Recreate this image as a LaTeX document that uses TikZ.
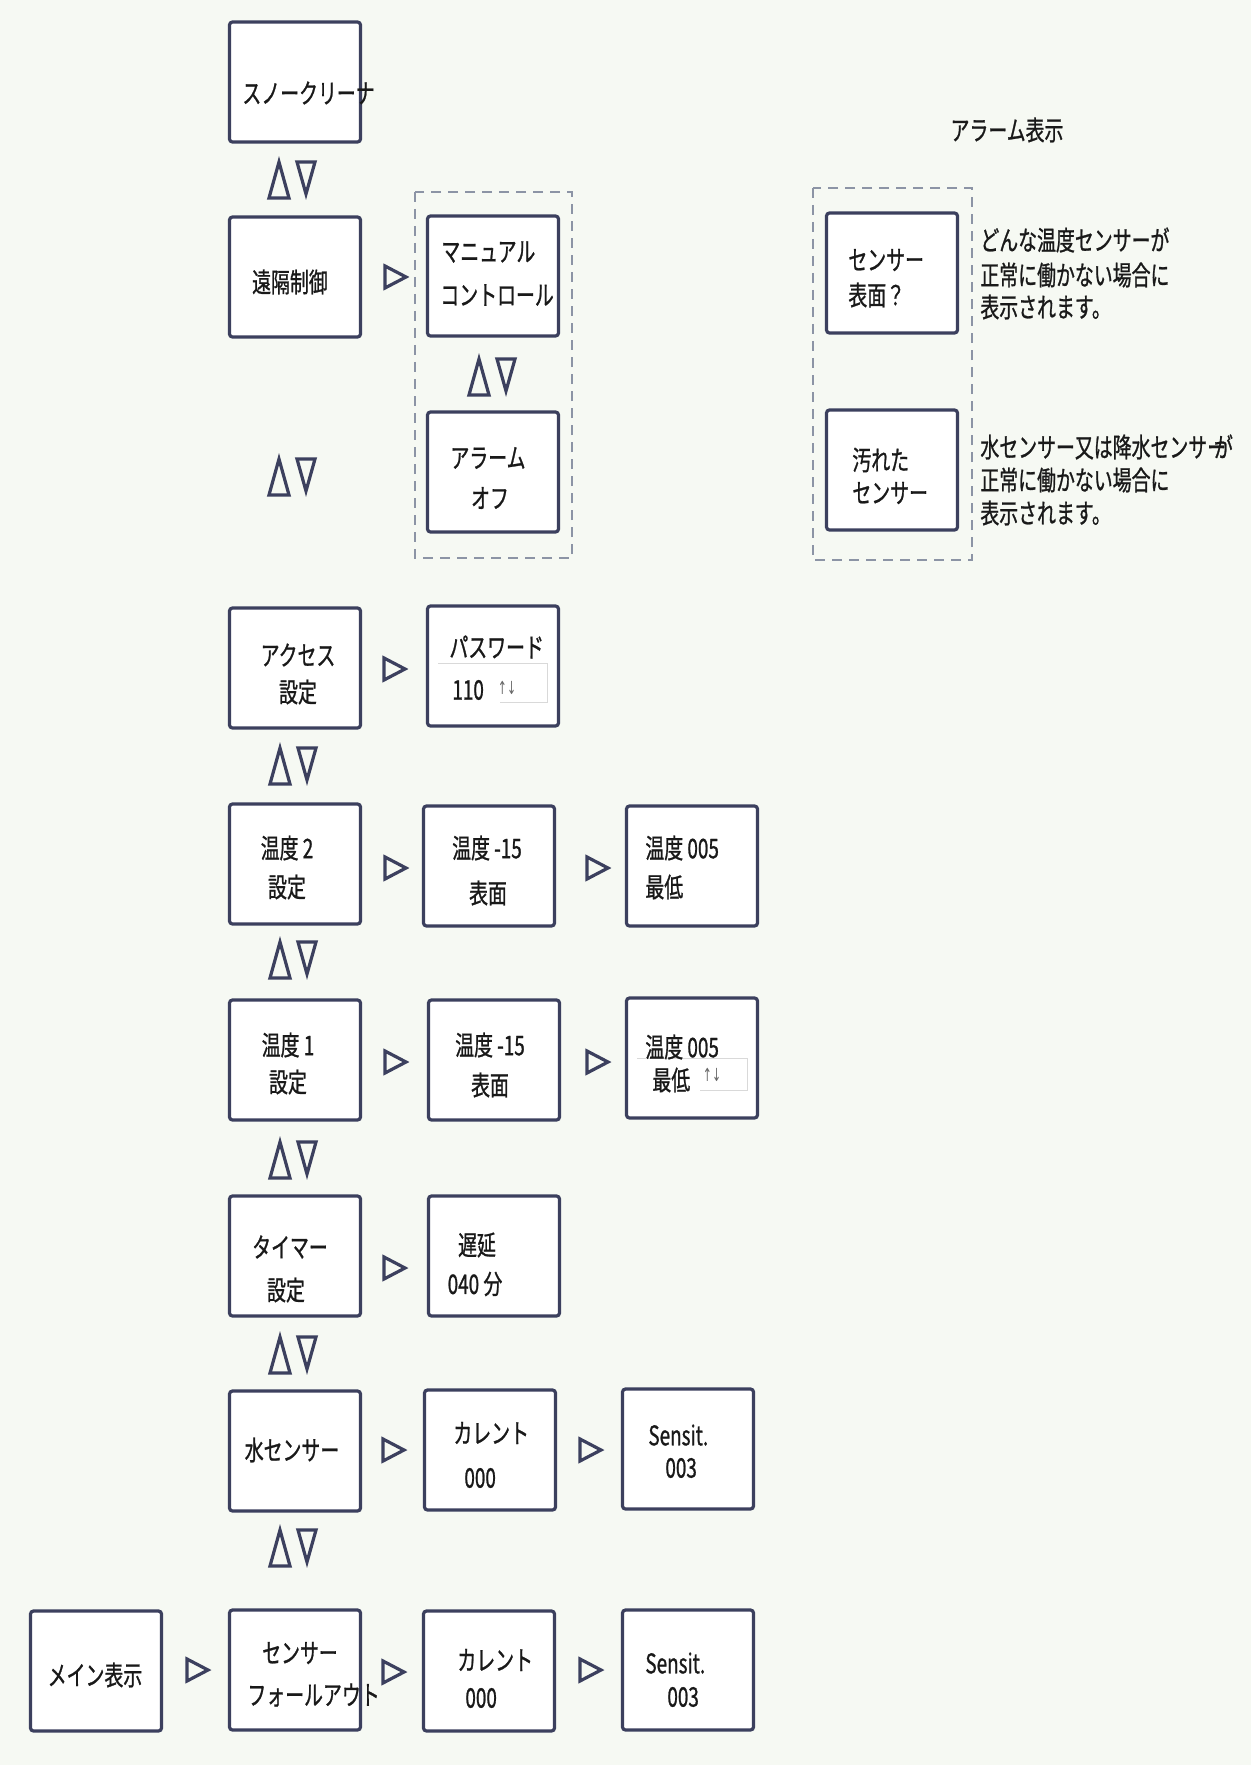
\documentclass[tikz,border=0pt]{standalone}
\usepackage{fontspec}
\newfontfamily\jp[FakeStretch=0.7,FakeBold=0.9]{Noto Sans CJK JP}
\newfontfamily\arrf[FakeStretch=0.6]{DejaVu Sans}
\definecolor{bg}{RGB}{246,249,243}
\definecolor{bd}{RGB}{60,64,94}
\definecolor{dsh}{RGB}{140,148,165}
\newcommand\updn[1]{\draw[symb,shift={(#1)}] (-23,18) -- (-13,-18) -- (-3,18) -- cycle;
  \draw[symb,shift={(#1)}] (5,-18) -- (23,-18) -- (14,14) -- cycle;}
\newcommand\rtri[1]{\draw[symb,shift={(#1)}] (-10,-11) -- (11,0) -- (-10,11) -- cycle;}
\begin{document}
\begin{tikzpicture}[x=0.5pt,y=-0.5pt,
 box/.style={draw=bd, line width=1.6pt, fill=white, rounded corners=1.5pt, minimum width=65.5pt, minimum height=60pt, inner sep=0pt},
 dbox/.style={draw=dsh, line width=0.9pt, dash pattern=on 5pt off 3.5pt},
 txt/.style={font=\jp\fontsize{13.5}{16}\selectfont, inner sep=0pt, text=black!90},
 lt/.style={txt, anchor=west},
 symb/.style={draw=bd, line width=1.6pt, line join=miter},
 faint/.style={draw=black!15, line width=0.5pt},
 arr/.style={font=\arrf\fontsize{9}{9}\selectfont, inner sep=0pt, text=black!60}
]
\fill[bg] (0,0) rectangle (1251,1765);
\useasboundingbox (0,0) rectangle (1251,1765);
% dashed groups
\draw[dbox] (415,192) rectangle (572,558);
\draw[dbox] (813,188) rectangle (972,560);
% boxes
\node[box] (snow) at (295,82) {};
\node[box] (remote) at (295,277) {};
\node[box] (manual) at (493,276) {};
\node[box] (aloff) at (493,472) {};
\node[box] (surf) at (892,273) {};
\node[box] (dirty) at (892,470) {};
\node[box] (access) at (295,668) {};
\node[box] (pass) at (493,666) {};
\node[box] (t2) at (295,864) {};
\node[box] (t2a) at (489,866) {};
\node[box] (t2b) at (692,866) {};
\node[box] (t1) at (295,1060) {};
\node[box] (t1a) at (494,1060) {};
\node[box] (t1b) at (692,1058) {};
\node[box] (timer) at (295,1256) {};
\node[box] (delay) at (494,1256) {};
\node[box] (water) at (295,1451) {};
\node[box] (wcur) at (490,1450) {};
\node[box] (wsen) at (688,1449) {};
\node[box] (main) at (96,1671) {};
\node[box] (fall) at (295,1670) {};
\node[box] (fcur) at (489,1671) {};
\node[box] (fsen) at (688,1670) {};
% faint input boxes
\draw[faint] (438,663) -- (547,663) -- (547,702) -- (500,702);
\draw[faint] (637,1058) -- (747,1058) -- (747,1090) -- (700,1090);
% texts
\node[lt] (snow-t) at (242,93) {スノークリーナ};
\node[txt] (remote-t) at (290,282) {遠隔制御};
\node[lt] (manual-t1) at (441,252) {マニュアル};
\node[lt] (manual-t2) at (440,295) {コントロール};
\node[txt] (aloff-t1) at (488,458) {アラーム};
\node[txt] (aloff-t2) at (490,498) {オフ};
\node[txt] (title) at (1007,130) {アラーム表示};
\node[lt] (surf-t1) at (848,260) {センサー};
\node[lt] (surf-t2) at (848,295) {表面？};
\node[lt] (dirty-t1) at (852,460) {汚れた};
\node[lt] (dirty-t2) at (852,493) {センサー};
\node[lt] (d1a) at (980,240) {どんな温度センサーが};
\node[lt] (d1b) at (980,275) {正常に働かない場合に};
\node[lt] (d1c) at (980,307) {表示されます。};
\node[lt] (d2a) at (980,447) {水センサー又は降水センサー\kern-0.45em が};
\node[lt] (d2b) at (980,480) {正常に働かない場合に};
\node[lt] (d2c) at (980,513) {表示されます。};
\node[txt] (access-t1) at (298,655) {アクセス};
\node[txt] (access-t2) at (298,692) {設定};
\node[lt] (pass-t1) at (449,647) {パスワード};
\node[lt] (pass-t2) at (452,690) {110};
\node[arr] (pass-ar) at (507,688) {↑↓};
\node[txt] (t2-t1) at (287,848) {温度 2};
\node[txt] (t2-t2) at (287,887) {設定};
\node[txt] (t2a-t1) at (487,848) {温度 -15};
\node[txt] (t2a-t2) at (488,893) {表面};
\node[lt] (t2b-t1) at (645,848) {温度 005};
\node[lt] (t2b-t2) at (645,887) {最低};
\node[txt] (t1-t1) at (288,1045) {温度 1};
\node[txt] (t1-t2) at (288,1082) {設定};
\node[txt] (t1a-t1) at (490,1045) {温度 -15};
\node[txt] (t1a-t2) at (490,1085) {表面};
\node[lt] (t1b-t1) at (645,1047) {温度 005};
\node[lt] (t1b-t2) at (652,1080) {最低};
\node[arr] (t1b-ar) at (712,1075) {↑↓};
\node[txt] (timer-t1) at (290,1247) {タイマー};
\node[txt] (timer-t2) at (286,1290) {設定};
\node[txt] (delay-t1) at (477,1245) {遅延};
\node[txt] (delay-t2) at (475,1284) {040 分};
\node[txt] (water-t) at (292,1450) {水センサー};
\node[lt] (wcur-t1) at (453,1433) {カレント};
\node[lt] (wcur-t2) at (464,1478) {000};
\node[lt] (wsen-t1) at (648,1435) {Sensit.};
\node[lt] (wsen-t2) at (665,1468) {003};
\node[txt] (main-t) at (95,1675) {メイン表示};
\node[txt] (fall-t1) at (300,1653) {センサー};
\node[lt] (fall-t2) at (247,1695) {フォールアウト};
\node[lt] (fcur-t1) at (457,1660) {カレント};
\node[lt] (fcur-t2) at (465,1698) {000};
\node[lt] (fsen-t1) at (645,1663) {Sensit.};
\node[lt] (fsen-t2) at (667,1697) {003};
% navigation symbols
\coordinate (u1) at (292,180);
\coordinate (u2) at (292,477);
\coordinate (u3) at (492,377);
\coordinate (u4) at (293,766);
\coordinate (u5) at (293,960);
\coordinate (u6) at (293,1160);
\coordinate (u7) at (293,1355);
\coordinate (u8) at (293,1548);
\foreach \c in {u1,u2,u3,u4,u5,u6,u7,u8} {\updn{\c}}
\coordinate (r1) at (395,277);
\coordinate (r2) at (394,669);
\coordinate (r3) at (395,868);
\coordinate (r4) at (597,868);
\coordinate (r5) at (395,1062);
\coordinate (r6) at (597,1062);
\coordinate (r7) at (394,1268);
\coordinate (r8) at (393,1450);
\coordinate (r9) at (590,1450);
\coordinate (r10) at (197,1670);
\coordinate (r11) at (393,1672);
\coordinate (r12) at (590,1670);
\foreach \c in {r1,r2,r3,r4,r5,r6,r7,r8,r9,r10,r11,r12} {\rtri{\c}}
\end{tikzpicture}
\end{document}
